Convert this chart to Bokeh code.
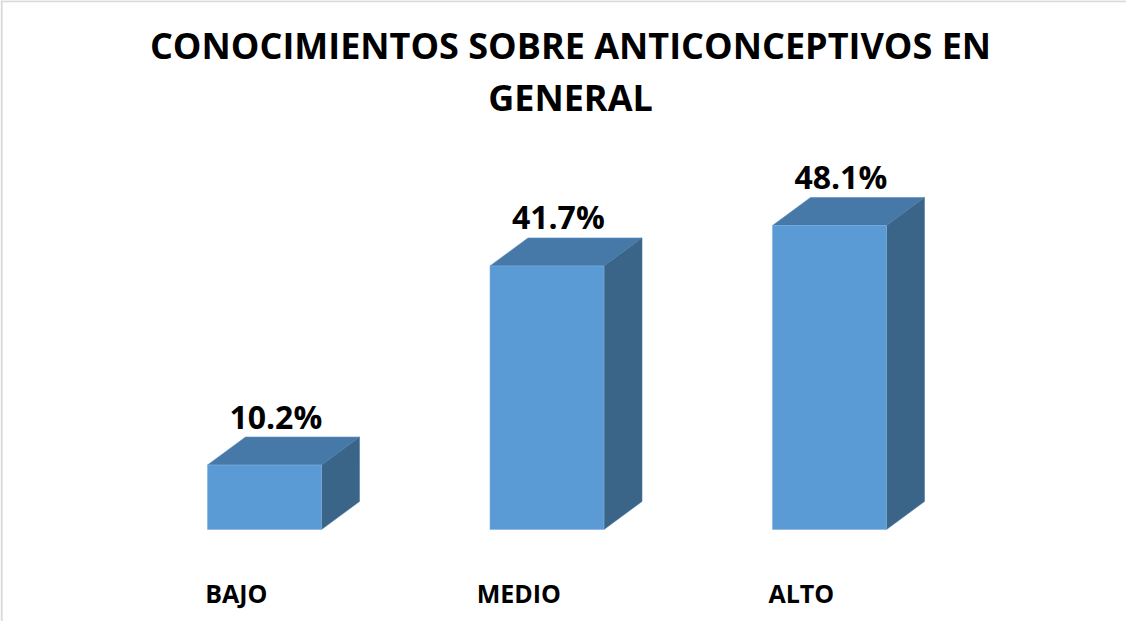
from bokeh.plotting import figure
from bokeh.models import Range1d, Label, ColumnDataSource, Span
from bokeh.core.properties import value
from bokeh.embed import file_html
from bokeh.resources import INLINE

title_lines = ["CONOCIMIENTOS SOBRE ANTICONCEPTIVOS EN", "GENERAL"]
categories = ["BAJO", "MEDIO", "ALTO"]
values = [10.2, 41.7, 48.1]
labels = ["10.2%", "41.7%", "48.1%"]

FRONT = "#5b9bd5"
TOP = "#4678a8"
SIDE = "#3a6588"
FONT = "Open Sans"

W, H = 1126, 621
x_start, x_end = -0.9345, 3.0513
y_start, y_end = -14.56, 83.70

p = figure(width=W, height=H, output_backend="svg", toolbar_location=None,
           x_range=Range1d(x_start, x_end), y_range=Range1d(y_start, y_end),
           min_border=0)
p.axis.visible = False
p.grid.visible = False
p.outline_line_color = None
p.background_fill_color = "white"
p.border_fill_color = "white"

# faint chart border (top and left)
p.add_layout(Span(location=y_end - 0.12, dimension="width", line_color="#d9d9d9", line_width=2))
p.add_layout(Span(location=x_start + 0.004, dimension="height", line_color="#d9d9d9", line_width=2))

w = 0.4035   # bar front width (x units)
dx = 0.1345  # depth offset x
dy = 4.43    # depth offset y

xs = list(range(len(values)))
front_src = ColumnDataSource(dict(
    left=[x - w / 2 for x in xs], right=[x + w / 2 for x in xs],
    top=values, bottom=[0] * len(values)))

top_xs, top_ys, side_xs, side_ys = [], [], [], []
for x, v in zip(xs, values):
    l, r = x - w / 2, x + w / 2
    top_xs.append([l, r, r + dx, l + dx])
    top_ys.append([v, v, v + dy, v + dy])
    side_xs.append([r, r + dx, r + dx, r])
    side_ys.append([0, dy, v + dy, v])

p.patches(top_xs, top_ys, fill_color=TOP, line_color="#5a8cbf", line_width=0.6)
p.patches(side_xs, side_ys, fill_color=SIDE, line_color="#4d7aa5", line_width=0.6)
p.quad(left="left", right="right", top="top", bottom="bottom", source=front_src,
       fill_color=FRONT, line_color="#7fb0de", line_width=0.6)

# value labels
p.text(x=[x + 0.04 for x in xs], y=[v + dy for v in values], text=labels,
       text_font=value(FONT), text_font_style="bold", text_font_size="32px",
       text_color="black", text_align="center", text_baseline="alphabetic",
       y_offset=-21)

# category labels
p.text(x=[x - 0.1 for x in xs], y=[-10.1] * len(xs), text=categories,
       text_font=value(FONT), text_font_style="bold", text_font_size="25px",
       text_color="black", text_align="center", text_baseline="middle")

# title
for txt, ys in zip(title_lines, [576, 524]):
    p.add_layout(Label(x=570, y=ys, x_units="screen", y_units="screen", text=txt,
                       text_font=FONT, text_font_style="bold", text_font_size="36px",
                       text_color="black", text_align="center", text_baseline="middle"))

open("out.html", "w").write(file_html(p, INLINE))
